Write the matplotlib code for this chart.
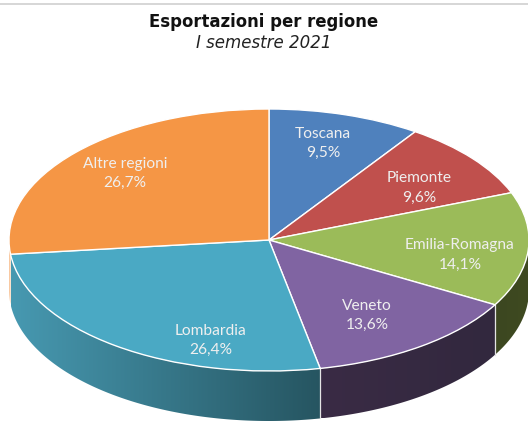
import numpy as np
import matplotlib
matplotlib.use("Agg")
import matplotlib.pyplot as plt
from matplotlib.colors import LinearSegmentedColormap
from matplotlib.patches import PathPatch
from matplotlib.path import Path

regions = ["Toscana", "Piemonte", "Emilia-Romagna", "Veneto", "Lombardia", "Altre regioni"]
shares = [9.5, 9.6, 14.1, 13.6, 26.4, 26.7]
share_labels = ["9,5%", "9,6%", "14,1%", "13,6%", "26,4%", "26,7%"]
top_colors = ["#4F81BD", "#C0504D", "#9BBB59", "#8064A2", "#4AA9C4", "#F59645"]
side_left = ["#4F81BD", "#C0504D", "#3C4720", "#3A2B45", "#4799B1", "#F9C9A2"]
side_right = ["#4F81BD", "#C0504D", "#3F4A21", "#32283E", "#265561", "#F9C9A2"]
label_px = [(323, 143.5), (419, 188), (460, 255), (367, 315.5), (211, 340.5), (125, 173.5)]

W, H = 528, 421
CX, CY, RX, RY, DEPTH = 269, 240, 260, 131, 50

fig = plt.figure(figsize=(W / 100, H / 100), dpi=100, facecolor="white")
ax = fig.add_axes([0, 0, 1, 1])

wedges, _ = ax.pie(shares, colors=top_colors, startangle=90, counterclock=False,
                   radius=1, wedgeprops=dict(edgecolor="white", linewidth=1.0, zorder=3))
ax.set_aspect("auto")
xlim = (-CX / RX, (W - CX) / RX)
ylim = (-(H - CY) / RY, CY / RY)

# Extruded rim, drawn from the same normalised shares as the wedges
depth = DEPTH / RY
fractions = np.array(shares) / np.sum(shares)
edges = np.concatenate([[0], np.cumsum(fractions)]) * 2 * np.pi
for i in range(len(shares)):
    # Only the front half (below the ellipse's horizontal axis) is visible
    a0 = max(edges[i], np.pi / 2)
    a1 = min(edges[i + 1], 3 * np.pi / 2)
    if a1 <= a0:
        continue
    angs = np.linspace(a0, a1, 200)
    xs, ys = np.sin(angs), np.cos(angs)
    verts = np.vstack([np.column_stack([xs, ys]),
                       np.column_stack([xs[::-1], ys[::-1] - depth])])
    verts = np.vstack([verts, verts[0]])
    codes = [Path.MOVETO] + [Path.LINETO] * (len(verts) - 2) + [Path.CLOSEPOLY]
    patch = PathPatch(Path(verts, codes), facecolor="none", edgecolor="none")
    ax.add_patch(patch)
    cmap = LinearSegmentedColormap.from_list("rim", [side_left[i], side_right[i]])
    img = ax.imshow(np.linspace(0, 1, 256).reshape(1, -1), cmap=cmap, aspect="auto",
                    extent=(xs.min(), xs.max(), ys.min() - depth, ys.max()),
                    interpolation="bilinear", zorder=1)
    img.set_clip_path(patch)

ax.set_xlim(*xlim)
ax.set_ylim(*ylim)
ax.axis("off")

# Light seams between rim sections
for e in edges[3:5]:
    x, y = np.sin(e), np.cos(e)
    ax.plot([x, x], [y, y - depth], color="#E4E4E4", lw=0.9, zorder=2)

for name, pct, (px, py) in zip(regions, share_labels, label_px):
    ax.text((px - CX) / RX, (CY - py) / RY, f"{name}\n{pct}", ha="center", va="center",
            color="#EFEFEF", fontsize=11.2, family="Lato", linespacing=1.5, zorder=5)

fig.text(264 / W, 1 - 22 / H, "Esportazioni per regione", ha="center", va="center",
         fontsize=11.9, fontweight="bold", family="DejaVu Sans", color="#111111")
fig.text(264 / W, 1 - 43 / H, "I semestre 2021", ha="center", va="center",
         fontsize=12, fontstyle="italic", family="DejaVu Sans", color="#222222")
fig.add_artist(plt.Line2D([0, 1], [1 - 3.5 / H, 1 - 3.5 / H], color="#CFCFCF", lw=1.2))

fig.savefig("out.png", dpi=100, facecolor="white")
